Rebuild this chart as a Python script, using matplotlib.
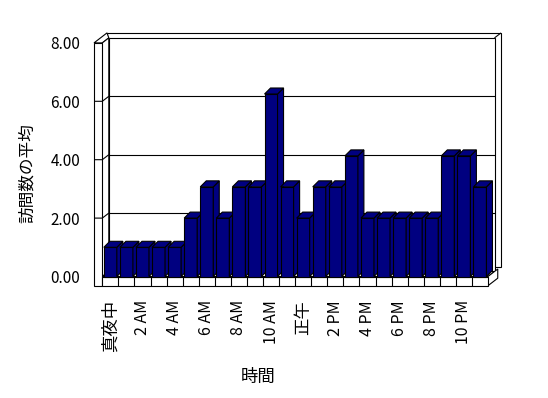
import matplotlib
matplotlib.use("Agg")
import matplotlib.pyplot as plt
from matplotlib.patches import Polygon

plt.rcParams['font.family'] = ['Noto Sans CJK JP', 'DejaVu Sans']

# ---- data ----
categories = ["真夜中", "1 AM", "2 AM", "3 AM", "4 AM", "5 AM", "6 AM", "7 AM",
              "8 AM", "9 AM", "10 AM", "11 AM", "正午", "1 PM", "2 PM", "3 PM",
              "4 PM", "5 PM", "6 PM", "7 PM", "8 PM", "9 PM", "10 PM", "11 PM"]
values = [1.0, 1.0, 1.0, 1.0, 1.0, 2.0, 3.07, 2.0, 3.07, 3.07, 6.25, 3.07,
          2.0, 3.07, 3.07, 4.13, 2.0, 2.0, 2.0, 2.0, 2.0, 4.13, 4.13, 3.07]
y_ticks = [0, 2, 4, 6, 8]
y_tick_labels = ["0.00", "2.00", "4.00", "6.00", "8.00"]
x_label = "時間"
y_label = "訪問数の平均"

# ---- style / geometry ----
NAVY = "#000080"
LW = 0.8
W, H = 548, 398
fig = plt.figure(figsize=(W / 100, H / 100), dpi=100)
fig.patch.set_facecolor("white")

px_left, px_right = 102.3, 488.0
px_y0, px_y8 = 276.5, 42.9
ax = fig.add_axes([px_left / W, (H - px_y0) / H,
                   (px_right - px_left) / W, (px_y0 - px_y8) / H])
n = len(categories)
ax.set_xlim(0, n)
ax.set_ylim(0, 8)
ax.set_frame_on(False)
ax.patch.set_alpha(0)

ppx = (px_right - px_left) / n       # px per category
ppy = (px_y0 - px_y8) / 8            # px per unit
dx, dy = 6.5 / ppx, 5.0 / ppy        # wall depth step
bdx, bdy = 6.0 / ppx, 6.0 / ppy      # bar depth
lw_x = -8.3 / ppx                    # left wall outer
fl_t = 9.2 / ppy                     # floor thickness
ymax = 8


def poly(pts, z, fc="white"):
    p = Polygon(pts, closed=True, facecolor=fc, edgecolor="black",
                linewidth=LW, zorder=z, clip_on=False, joinstyle="miter")
    ax.add_patch(p)


def line(xs, ys, z):
    ax.plot(xs, ys, color="black", linewidth=LW, zorder=z, clip_on=False,
            solid_capstyle="butt")


# back wall (back face, then front face)
poly([(lw_x + 2 * dx, 2 * dy), (n + 2 * dx, 2 * dy),
      (n + 2 * dx, ymax + 2 * dy), (lw_x + 2 * dx, ymax + 2 * dy)], 0.1)
poly([(dx, dy), (n + dx, dy), (n + dx, ymax + dy), (dx, ymax + dy)], 0.2)
line([n + dx, n + 2 * dx], [ymax + dy, ymax + 2 * dy], 0.25)

# left wall
poly([(lw_x, ymax), (0, ymax), (dx, ymax + dy), (lw_x + 2 * dx, ymax + 2 * dy)], 0.3)
poly([(0, 0), (dx, dy), (dx, ymax + dy), (0, ymax)], 0.3)
poly([(lw_x, -fl_t), (0, -fl_t), (0, ymax), (lw_x, ymax)], 0.35)

# gridlines
for v in y_ticks:
    if 0 < v < ymax:
        line([dx, n + dx], [v + dy, v + dy], 0.4)
        line([lw_x, 0, dx], [v, v, v + dy], 0.4)

# floor
poly([(0, 0), (n, 0), (n + dx, dy), (dx, dy)], 0.5)
poly([(n, -fl_t), (n, 0), (n + 1.5 * dx, 1.5 * dy), (n + 1.5 * dx, -fl_t + 1.5 * dy)], 0.5)
poly([(0, -fl_t), (n, -fl_t), (n, 0), (0, 0)], 0.5)
for i in range(1, n):
    line([i, i], [0, -fl_t], 0.55)

# bars (front face via ax.bar, sides/tops as 3D faces)
bw = 13.0 / ppx
xs = [i + 0.5 for i in range(n)]
bars = ax.bar(xs, values, width=bw, color=NAVY, edgecolor="black",
              linewidth=LW, clip_on=False)
for i, (rect, h) in enumerate(zip(bars, values)):
    z = 2 + i * 0.03
    rect.set_zorder(z)
    xl, xr = xs[i] - bw / 2, xs[i] + bw / 2
    poly([(xr, 0), (xr, h), (xr + bdx, h + bdy), (xr + bdx, bdy)], z + 0.01, NAVY)
    poly([(xl, h), (xr, h), (xr + bdx, h + bdy), (xl + bdx, h + bdy)], z + 0.02, NAVY)

# ticks
ax.set_yticks(y_ticks, y_tick_labels)
ax.tick_params(axis="y", length=0, pad=16, labelsize=11)
tick_pos = [xs[i] for i in range(0, n, 2)]
tick_lab = [categories[i] for i in range(0, n, 2)]
ax.set_xticks(tick_pos, tick_lab, rotation=90)
ax.tick_params(axis="x", length=0, pad=17, labelsize=11.5)
for t in ax.get_xticklabels():
    if not t.get_text().isascii():
        t.set_fontsize(12.5)

ax.text(-0.193, 0.443, y_label, transform=ax.transAxes, rotation=90,
        ha="center", va="center", fontsize=12)
ax.text(0.404, -0.430, x_label, transform=ax.transAxes,
        ha="center", va="center", fontsize=12.5)

fig.savefig("out.png", dpi=100, facecolor="white")
